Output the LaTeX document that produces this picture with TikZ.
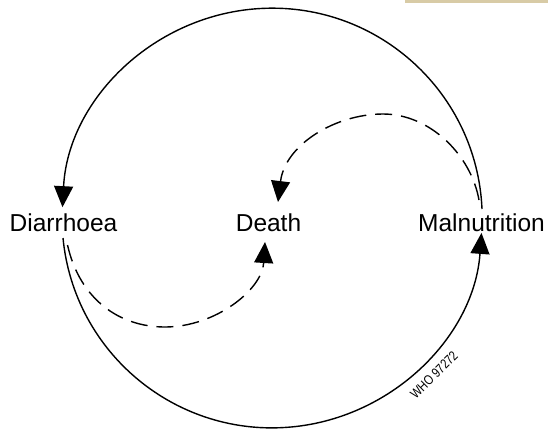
\documentclass[tikz,border=0pt]{standalone}
\usepackage{fontspec}
\setmainfont{Liberation Sans}
\usetikzlibrary{arrows.meta}
\definecolor{tanbar}{HTML}{D8CBA6}
\begin{document}
\begin{tikzpicture}[x=1pt,y=-1pt,
  lbl/.style={inner sep=0pt, outer sep=0pt, anchor=base, font=\fontsize{24.5}{28}\selectfont},
  conn/.style={line width=1.4pt, -{Triangle[length=21pt,width=19pt]}},
  dashconn/.style={conn, dash pattern=on 17pt off 9pt}]
\useasboundingbox (0,0) rectangle (548,429);
\fill[tanbar] (405,0) rectangle (548,3);
\node[lbl] (diar) at (63.5,231) {Diarrhoea};
\node[lbl] (death) at (268.5,231) {Death};
\node[lbl] (maln) at (481.5,231) {Malnutrition};
% solid circle arcs
\draw[conn] ([shift={(0.5,-22)}]maln.base) arc[start angle=-2.5, end angle=-177, radius=210];
\draw[conn] ([shift={(-0.5,7)}]diar.base) arc[start angle=174.5, end angle=4.1, radius=210];
% dashed arcs
\draw[dashconn] ([shift={(-2.5,-31)}]maln.base) .. controls (471,155) and (430,114) .. (383,114)
  .. controls (335,114) and (285,145) .. ([shift={(9.5,-29)}]death.base);
\draw[dashconn] ([shift={(4,14)}]diar.base) .. controls (80,300) and (120,327) .. (165,327)
  .. controls (215,327) and (262,290) .. ([shift={(-3.5,11)}]death.base);
\node[rotate=45, inner sep=0pt, font=\fontsize{13.5}{13.5}\selectfont] (who) at (434,375) {\scalebox{0.82}[1]{WHO 97272}};
\end{tikzpicture}
\end{document}
